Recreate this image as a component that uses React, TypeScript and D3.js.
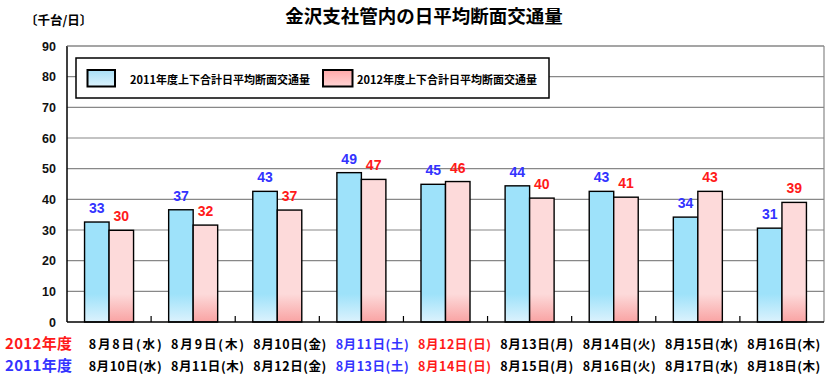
import React from "react";
import * as d3 from "d3";

const categories = ["c1", "c2", "c3", "c4", "c5", "c6", "c7", "c8", "c9"];
const dates2012 = ["8月8日(水)", "8月9日(木)", "8月10日(金)", "8月11日(土)", "8月12日(日)", "8月13日(月)", "8月14日(火)", "8月15日(水)", "8月16日(木)"];
const dates2011 = ["8月10日(水)", "8月11日(木)", "8月12日(金)", "8月13日(土)", "8月14日(日)", "8月15日(月)", "8月16日(火)", "8月17日(水)", "8月18日(木)"];
const values2011 = [32.6, 36.6, 42.6, 48.7, 44.9, 44.4, 42.6, 34.2, 30.6];
const values2012 = [29.9, 31.6, 36.5, 46.5, 45.8, 40.4, 40.7, 42.6, 39.0];
const yTicks = [0, 10, 20, 30, 40, 50, 60, 70, 80, 90];
const seriesNames = ["2011年度上下合計日平均断面交通量", "2012年度上下合計日平均断面交通量"];
const title = "金沢支社管内の日平均断面交通量";
const unitLabel = "〔千台/日〕";
const rowLabels = ["2012年度", "2011年度"];

const W = 829, H = 376;
const plot = { left: 67, right: 824, top: 46, bottom: 322 };
const JP = "'Noto Sans CJK JP', sans-serif";
const NUM = "'Liberation Sans', Arial, sans-serif";
const BLUE_TXT = "#3333ff";
const RED_TXT = "#ff1a1a";

function dayColor(s: string) {
  if (s.includes("(土)")) return BLUE_TXT;
  if (s.includes("(日)")) return RED_TXT;
  return "#000";
}

export default function App() {
  const x = d3.scaleBand<string>().domain(categories).range([plot.left, plot.right]).paddingInner(0).paddingOuter(0);
  const y = d3.scaleLinear().domain([0, 90]).range([plot.bottom, plot.top]);
  const labelX = d3.scaleBand<string>().domain(categories).range([84, 825]);
  const barW = 24.5;

  return (
    <svg width={W} height={H} style={{ position: "absolute", left: 0, top: 0, background: "#fff" }}>
      <defs>
        <linearGradient id="gBlue" gradientUnits="userSpaceOnUse" x1="0" x2="0" y1={plot.bottom - 28} y2={plot.bottom}>
          <stop offset="0" stopColor="#9ee2fa" />
          <stop offset="1" stopColor="#dcf2fd" />
        </linearGradient>
        <linearGradient id="gPink" gradientUnits="userSpaceOnUse" x1="0" x2="0" y1={plot.bottom - 28} y2={plot.bottom}>
          <stop offset="0" stopColor="#fddada" />
          <stop offset="1" stopColor="#f9a3a3" />
        </linearGradient>
        <linearGradient id="lBlue" x1="0" x2="0" y1="0" y2="1">
          <stop offset="0" stopColor="#a8dff6" />
          <stop offset="1" stopColor="#dcf3fd" />
        </linearGradient>
        <linearGradient id="lPink" x1="0" x2="0" y1="0" y2="1">
          <stop offset="0" stopColor="#ffa8a8" />
          <stop offset="1" stopColor="#ffd4d4" />
        </linearGradient>
      </defs>
      <rect x={0} y={0} width={W} height={H} fill="#fff" />

      <text x={424} y={23} textAnchor="middle" fontFamily={JP} fontWeight="bold" fontSize={18.5} fill="#000">{title}</text>
      <text x={25} y={25} fontFamily={JP} fontWeight="bold" fontSize={12.5} fill="#000">{unitLabel}</text>

      {yTicks.map((t) => (
        <g key={t}>
          {t > 0 && <line x1={plot.left} x2={plot.right} y1={y(t)} y2={y(t)} stroke="#888" strokeWidth={1.2} />}
          <text x={56} y={y(t) + 4.5} textAnchor="end" fontFamily={NUM} fontWeight="bold" fontSize={12.5} fill="#111">{t}</text>
        </g>
      ))}
      <line x1={plot.right} x2={plot.right} y1={plot.top} y2={plot.bottom} stroke="#888" strokeWidth={1.2} />

      {categories.map((c, i) => {
        const cx = (x(c) as number) + x.bandwidth() / 2;
        const v1 = values2011[i], v2 = values2012[i];
        return (
          <g key={c}>
            <rect x={cx - barW} y={y(v1)} width={barW} height={plot.bottom - y(v1)} fill="url(#gBlue)" stroke="#000" strokeWidth={1.4} />
            <rect x={cx} y={y(v2)} width={barW} height={plot.bottom - y(v2)} fill="url(#gPink)" stroke="#000" strokeWidth={1.4} />
            <text x={cx - barW / 2} y={y(v1) - 9} textAnchor="middle" fontFamily={NUM} fontWeight="bold" fontSize={14} fill={BLUE_TXT}>{Math.round(v1)}</text>
            <text x={cx + barW / 2} y={y(v2) - 9} textAnchor="middle" fontFamily={NUM} fontWeight="bold" fontSize={14} fill={RED_TXT}>{Math.round(v2)}</text>
          </g>
        );
      })}

      {categories.slice(1).map((c) => (
        <line key={c} x1={x(c) as number} x2={x(c) as number} y1={plot.bottom} y2={plot.bottom - 6} stroke="#000" strokeWidth={1.2} />
      ))}
      <line x1={plot.left} x2={plot.left} y1={plot.top} y2={plot.bottom} stroke="#000" strokeWidth={1.5} />
      <line x1={plot.left} x2={plot.right} y1={plot.bottom} y2={plot.bottom} stroke="#000" strokeWidth={1.5} />
      <line x1={plot.left} x2={plot.right} y1={plot.top} y2={plot.top} stroke="#888" strokeWidth={1.2} />

      <rect x={76} y={58} width={473} height={40} fill="#fff" stroke="#000" strokeWidth={1.5} />
      <rect x={87.5} y={70} width={27.5} height={16.5} fill="url(#lBlue)" stroke="#000" strokeWidth={2} />
      <text x={130} y={84} fontFamily={JP} fontWeight="bold" fontSize={11} fill="#000">{seriesNames[0]}</text>
      <rect x={323} y={70} width={29.5} height={16.5} fill="url(#lPink)" stroke="#000" strokeWidth={2} />
      <text x={357} y={84} fontFamily={JP} fontWeight="bold" fontSize={11} fill="#000">{seriesNames[1]}</text>

      <text x={5} y={348.5} fontFamily={JP} fontWeight="bold" fontSize={15} textLength={67} lengthAdjust="spacing" fill={RED_TXT}>{rowLabels[0]}</text>
      <text x={5} y={371} fontFamily={JP} fontWeight="bold" fontSize={15} textLength={67} lengthAdjust="spacing" fill={BLUE_TXT}>{rowLabels[1]}</text>
      {categories.map((c, i) => {
        const cx = (labelX(c) as number) + labelX.bandwidth() / 2;
        return (
          <g key={c}>
            <text x={cx} y={348.5} textAnchor="middle" fontFamily={JP} fontWeight="bold" fontSize={12.5} textLength={73} lengthAdjust="spacing" fill={dayColor(dates2012[i])}>{dates2012[i]}</text>
            <text x={cx} y={371} textAnchor="middle" fontFamily={JP} fontWeight="bold" fontSize={12.5} textLength={73} lengthAdjust="spacing" fill={dayColor(dates2011[i])}>{dates2011[i]}</text>
          </g>
        );
      })}
    </svg>
  );
}
